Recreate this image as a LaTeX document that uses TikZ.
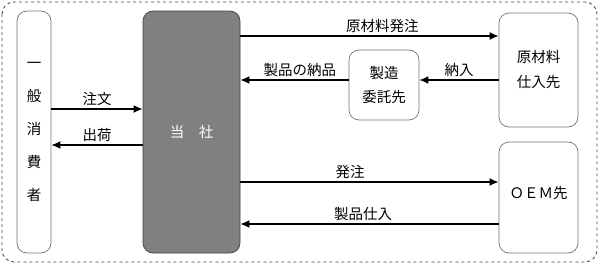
\documentclass[tikz,border=0pt]{standalone}
\usepackage{fontspec}
\setmainfont{Noto Sans CJK JP}
\usetikzlibrary{arrows.meta,positioning}

\begin{document}
\begin{tikzpicture}[x=1pt,y=-1pt,>={Latex[length=9pt,width=8pt]},font=\fontsize{14.5}{17}\selectfont]
\tikzstyle{box}=[draw=gray!90!black,line width=0.7pt,rounded corners=10pt,align=center,inner sep=0pt]
\tikzstyle{flow}=[->,line width=1.5pt]
\tikzstyle{lbl}=[above=1pt,inner sep=2pt]
\useasboundingbox (0,0) rectangle (599,265);
\draw[gray!60!black,dashed,rounded corners=12pt,line width=0.9pt] (2,2) rectangle (597,262);
% nodes
\node[box,minimum width=34,minimum height=242,font=\fontsize{14.5}{33}\selectfont] (shohisha) at (34,132) {一\\般\\消\\費\\者};
\node[box,draw=black!75,fill=gray,text=white,minimum width=97,minimum height=242] (tosha) at (191.5,132) {当　社};
\node[box,minimum width=79,minimum height=114,font=\fontsize{14.5}{25}\selectfont] (genzai) at (538.5,70) {原材料\\仕入先};
\node[box,minimum width=70,minimum height=70,font=\fontsize{14.5}{24}\selectfont] (itaku) at (384,85) {製造\\委託先};
\node[box,minimum width=79,minimum height=111] (oem) at (538.5,197.5) {\raisebox{10pt}{ＯＥＭ先}};
% connectors
\draw[flow] (shohisha.east |- 0,109) -- node[lbl] {注文} (tosha.west |- 0,109);
\draw[flow] (tosha.west |- 0,145) -- node[lbl] {出荷} (shohisha.east |- 0,145);
\draw[flow] (tosha.east |- 0,36) -- node[lbl,pos=0.55] {原材料発注} (genzai.west |- 0,36);
\draw[flow] (genzai.west |- 0,80) -- node[lbl] {納入} (itaku.east |- 0,80);
\draw[flow] (itaku.west |- 0,80) -- node[lbl,pos=0.45] {製品の納品} (tosha.east |- 0,80);
\draw[flow] (tosha.east |- 0,182) -- node[lbl,pos=0.425] {発注} (oem.west |- 0,182);
\draw[flow] (oem.west |- 0,224) -- node[lbl,pos=0.525] {製品仕入} (tosha.east |- 0,224);
\end{tikzpicture}
\end{document}
